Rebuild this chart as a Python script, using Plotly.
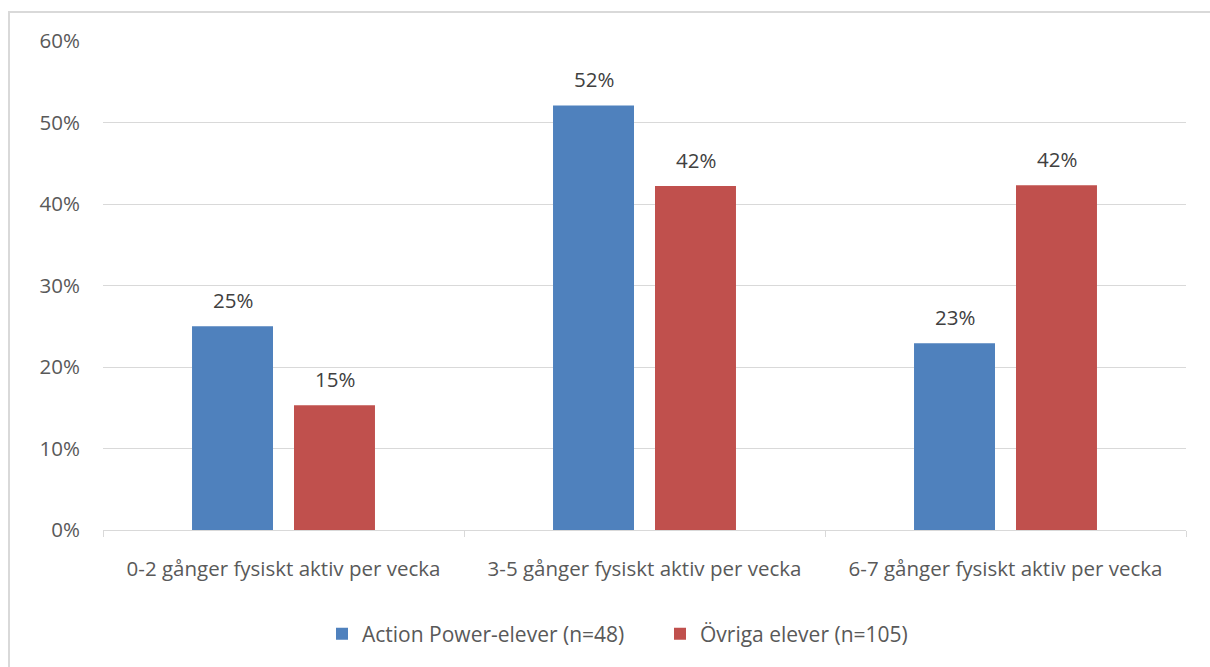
import plotly.graph_objects as go

categories = ["0-2 gånger fysiskt aktiv per vecka",
              "3-5 gånger fysiskt aktiv per vecka",
              "6-7 gånger fysiskt aktiv per vecka"]
series_names = ["Action Power-elever (n=48)", "Övriga elever (n=105)"]
action_power = [0.250, 0.521, 0.229]
ovriga = [0.153, 0.422, 0.423]
y_ticks = [0, 0.1, 0.2, 0.3, 0.4, 0.5, 0.6]
y_tick_labels = ["0%", "10%", "20%", "30%", "40%", "50%", "60%"]

colors = ["#4F81BD", "#C0504D"]
FONT = "Open Sans"
W, H = 1210, 667
ML, MR, MT, MB = 103, 24, 41, 137

fig = go.Figure()
for name, vals, col in zip(series_names, [action_power, ovriga], colors):
    fig.add_trace(go.Bar(x=categories, y=vals, name=name,
                         marker=dict(color=col, line=dict(width=0))))

# data labels
for k, vals in enumerate([action_power, ovriga]):
    shift = -51 if k == 0 else 51
    for c, v in zip(categories, vals):
        fig.add_annotation(x=c, y=v, text=f"{round(v*100):.0f}%", showarrow=False,
                           xshift=shift, yshift=26, yanchor="middle",
                           font=dict(family=FONT, size=20.5, color="#404040"))

pw = W - ML - MR
ph = H - MT - MB
def px_x(px):
    return (px - ML) / pw
def px_y(py):
    return (H - MB - py) / ph

# outer chart border (partly visible)
fig.add_shape(type="rect", xref="paper", yref="paper",
              x0=px_x(9), x1=px_x(1260), y0=px_y(720), y1=px_y(12),
              line=dict(color="#D9D9D9", width=2), fillcolor="rgba(0,0,0,0)",
              layer="below")

fig.update_layout(
    width=W, height=H,
    margin=dict(l=ML, r=MR, t=MT, b=MB),
    paper_bgcolor="white", plot_bgcolor="white",
    barmode="group", bargap=0.435, bargroupgap=0.206,
    font=dict(family=FONT, size=20, color="#595959"),
    showlegend=True,
    legend=dict(orientation="h", x=px_x(322), xanchor="left", y=px_y(634), yanchor="middle",
                font=dict(family=FONT, size=21, color="#595959"),
                entrywidth=333 - 40, entrywidthmode="pixels",
                traceorder="normal"),
    xaxis=dict(showgrid=False, showline=True, linecolor="#D9D9D9", linewidth=1,
               ticks="outside", tickson="boundaries", ticklen=6, tickcolor="#D9D9D9",
               ticklabelstandoff=20, tickfont=dict(family=FONT, size=20.5, color="#595959")),
    yaxis=dict(range=[0, 0.6], tickvals=y_ticks, ticktext=y_tick_labels,
               showgrid=True, gridcolor="#D9D9D9", gridwidth=1,
               zeroline=False, showline=False, ticks="",
               ticklabelstandoff=22, tickfont=dict(family=FONT, size=20.5, color="#595959")),
)

fig.write_html("out.html")
